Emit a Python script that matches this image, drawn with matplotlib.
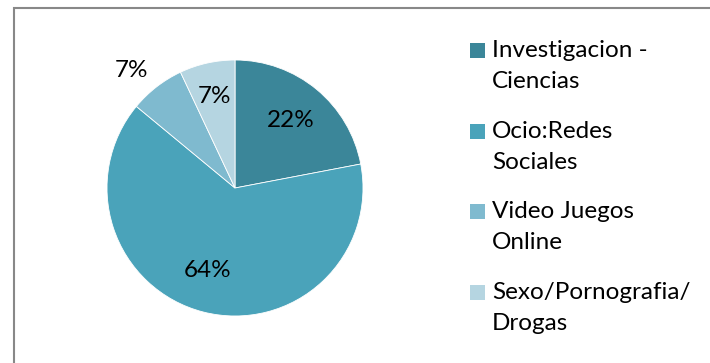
import numpy as np
import matplotlib
matplotlib.use("Agg")
import matplotlib.pyplot as plt
from matplotlib.patches import Rectangle

categories = ["Investigacion -\nCiencias", "Ocio:Redes\nSociales",
              "Video Juegos\nOnline", "Sexo/Pornografia/\nDrogas"]
values = [22, 64, 7, 7]
colors = ["#3B8699", "#4AA3BA", "#7FBACF", "#B5D5E1"]
label_dist = [0.68, 0.68, 1.22, 0.73]
label_turn = [0, -4, 3.5, 0]

W, H = 710, 363
fig = plt.figure(figsize=(W / 100, H / 100), dpi=100)
plt.rcParams["font.family"] = ["Lato", "DejaVu Sans"]

# outer frame
fig.patches.append(Rectangle((14 / W, -0.1), 1.2, 1 - 8 / H + 0.1,
                             transform=fig.transFigure, fill=False,
                             edgecolor="#888888", linewidth=1.5))

cx, cy, r = 235, 188, 128
ax = fig.add_axes([(cx - r) / W, (H - cy - r) / H, 2 * r / W, 2 * r / H])
wedges, _ = ax.pie(values, colors=colors, startangle=90, counterclock=False,
                   radius=1.0, wedgeprops=dict(linewidth=0.6, edgecolor="white"))
ax.set_xlim(-1, 1)
ax.set_ylim(-1, 1)
ax.set_aspect("equal")
ax.axis("off")

total = sum(values)
for w, v, d, t in zip(wedges, values, label_dist, label_turn):
    ang = np.deg2rad((w.theta1 + w.theta2) / 2 + t)
    ax.text(d * np.cos(ang), d * np.sin(ang), f"{round(100 * v / total)}%",
            ha="center", va="center", fontsize=17.5, color="black")

# legend
sq = 15
x0, y0, step, line = 470, 50.5, 80.7, 31
for i, (lab, c) in enumerate(zip(categories, colors)):
    yc = y0 + i * step
    fig.patches.append(Rectangle((x0 / W, (H - yc - sq / 2) / H), sq / W, sq / H,
                                 transform=fig.transFigure, facecolor=c,
                                 edgecolor="none"))
    for j, part in enumerate(lab.split("\n")):
        fig.text(492 / W, (H - yc - j * line) / H, part, ha="left", va="center",
                 fontsize=17.5, color="black")

fig.savefig("out.png", dpi=100)
